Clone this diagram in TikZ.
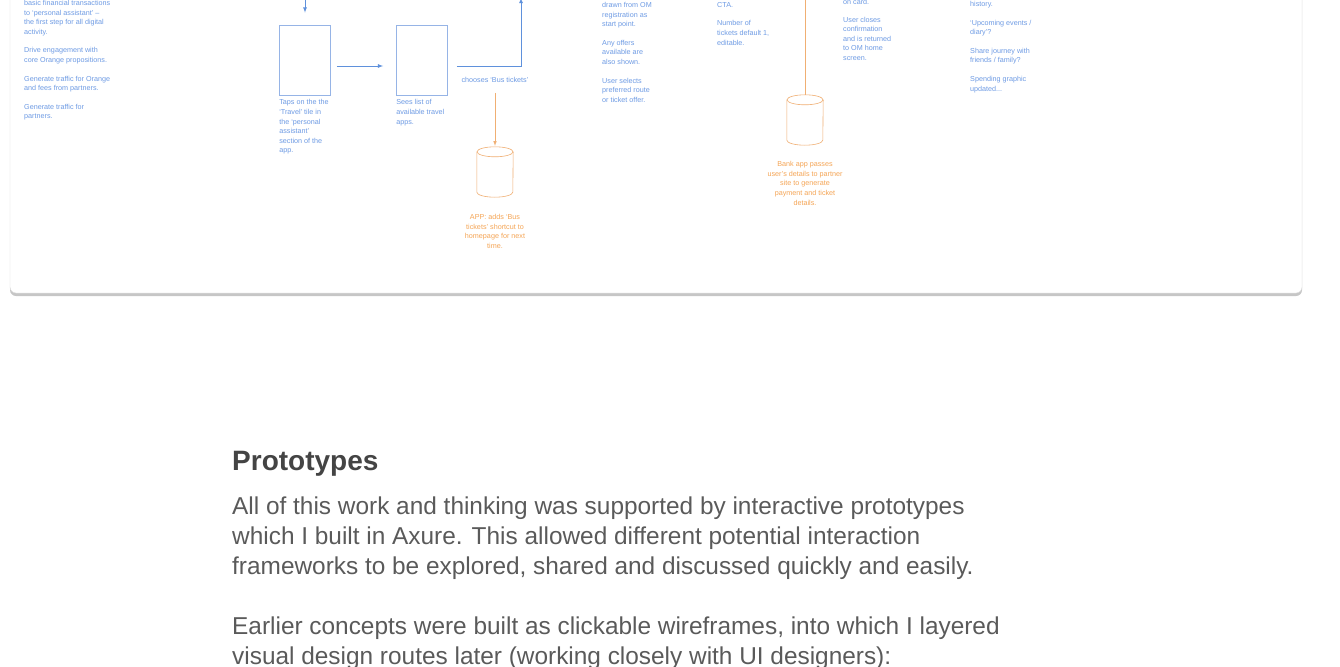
\documentclass[tikz,border=0pt]{standalone}
\usepackage{fontspec}
\setmainfont{Liberation Sans}
\usetikzlibrary{positioning,shadows}
\definecolor{flowblue}{RGB}{95,145,220}
\definecolor{noteblue}{RGB}{110,155,228}
\definecolor{boxblue}{RGB}{150,180,230}
\definecolor{feedorange}{RGB}{240,175,115}
\definecolor{noteorange}{RGB}{245,165,85}
\definecolor{headgray}{RGB}{68,68,68}
\definecolor{bodygray}{RGB}{90,90,90}
\begin{document}
\begin{tikzpicture}[x=1pt,y=-1pt,every node/.style={inner sep=0pt},
	note/.style={anchor=north west,align=left,text=noteblue,font=\fontsize{7.2}{9.6}\selectfont},
	screen/.style={draw=boxblue,line width=0.8pt,minimum width=51pt,minimum height=70pt},
	store/.style={minimum width=36pt,minimum height=50pt},
	flow/.style={draw=flowblue,line width=0.8pt},
	feed/.style={draw=feedorange,line width=0.6pt}]
	\useasboundingbox (0,0) rectangle (1340,666);
	% card
	\path[draw=gray!30,fill=white,rounded corners=6pt,drop shadow={shadow xshift=0pt,shadow yshift=-3pt,opacity=0.45}] (10,-30) rectangle (1302,293);
	\node[screen] (tap) at (305,60) {};
	\node[screen] (list) at (422,60) {};
	\node[store] (db1) at (495,172) {};
	\node[store] (db2) at (805,120) {};
	% cylinders
	\foreach \db in {db1,db2} {
		\draw[feed] ([yshift=-5pt]\db.north) ellipse [x radius=18pt,y radius=5pt];
		\draw[feed] ([yshift=-5pt]\db.north west) -- ([yshift=5pt]\db.south west) arc [start angle=180,end angle=360,x radius=18pt,y radius=5pt] -- ([yshift=-5pt]\db.north east);
	}
	\coordinate (entry) at (305,-4);
	\coordinate (exit) at (521,-2);
	\coordinate (bank) at (805,-4);
	\node[note] (goals) at (24,0) {basic financial transactions\\to `personal assistant' --\\the first step for all digital\\activity.\\[9pt]Drive engagement with\\core Orange propositions.\\[9pt]Generate traffic for Orange\\and fees from partners.\\[9pt]Generate traffic for\\partners.};
	\node[note,below right=4pt and 0pt of tap.south west] (taptext) {Taps on the the\\`Travel' tile in\\the `personal\\assistant'\\section of the\\app.};
	\node[note,below right=4pt and 0pt of list.south west] (listtext) {Sees list of\\available travel\\apps.};
	\node[note,anchor=center] (bus) at (495,80) {chooses `Bus tickets'};
	\node[note,align=center,text=noteorange,below=17pt of db1] (db1text) {APP: adds `Bus\\tickets' shortcut to\\homepage for next\\time.};
	\node[note] (route) at (602,2) {drawn from OM\\registration as\\start point.\\[9pt]Any offers\\available are\\also shown.\\[9pt]User selects\\preferred route\\or ticket offer.};
	\node[note] (ticket) at (717,2) {CTA.\\[9pt]Number of\\tickets default 1,\\editable.};
	\node[note,align=center,text=noteorange,below=16pt of db2] (db2text) {Bank app passes\\user's details to partner\\site to generate\\payment and ticket\\details.};
	\node[note] (confirm) at (843,-1) {on card.\\[8pt]User closes\\confirmation\\and is returned\\to OM home\\screen.};
	\node[note] (extras) at (970,1) {history.\\[9pt]`Upcoming events /\\diary'?\\[9pt]Share journey with\\friends / family?\\[9pt]Spending graphic\\updated...};
	\draw[flow,->,>=latex,shorten >=12pt] (entry) -- (tap);
	\draw[flow,->,>=latex,shorten <=6pt,shorten >=13pt] ([yshift=-6pt]tap.east) -- ([yshift=-6pt]list.west);
	\draw[flow,->,>=latex,shorten <=9pt] ([yshift=-6pt]list.east) -| (exit);
	\draw[feed,->,>=latex,shorten <=10pt,shorten >=1pt] (bus) -- (db1);
	\draw[feed] (bank) -- (db2);
	% text below the card
	\node[anchor=base west,font=\fontsize{28}{34}\selectfont\bfseries,text=headgray] (head) at (232,470) {Prototypes};
	\node[anchor=north west,align=left,font=\fontsize{24.4}{30}\selectfont,text=bodygray] (body) at (232,497) {All of this work and thinking was supported by interactive prototypes\\which I built in Axure. This allowed different potential interaction\\frameworks to be explored, shared and discussed quickly and easily.\\[30pt]Earlier concepts were built as clickable wireframes, into which I layered\\visual design routes later (working closely with UI designers):};
\end{tikzpicture}
\end{document}
